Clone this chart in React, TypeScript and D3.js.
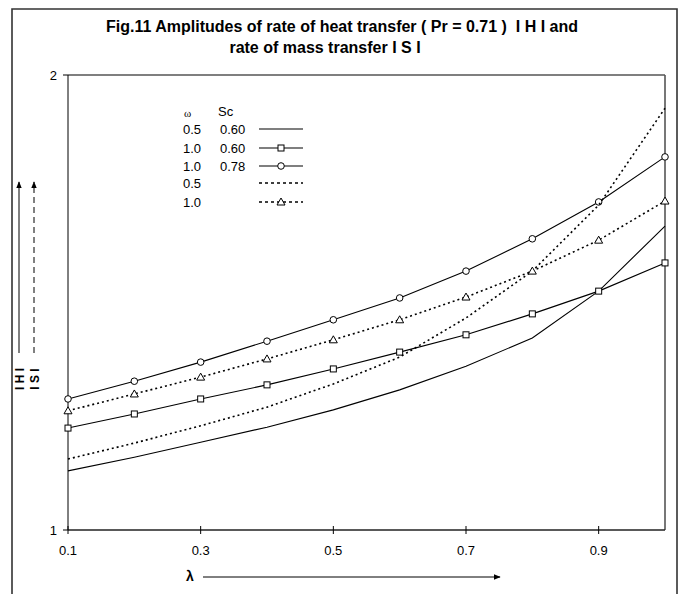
import React from "react";
import * as d3 from "d3";

const lambdas = [0.1, 0.2, 0.3, 0.4, 0.5, 0.6, 0.7, 0.8, 0.9, 1.0];
// |H| omega=0.5, Sc=0.60
const hW05Sc060 = [1.13, 1.16, 1.193, 1.226, 1.264, 1.308, 1.36, 1.422, 1.525, 1.668];
// |H| omega=1.0, Sc=0.60
const hW10Sc060 = [1.224, 1.255, 1.288, 1.319, 1.354, 1.391, 1.429, 1.475, 1.525, 1.587];
// |H| omega=1.0, Sc=0.78
const hW10Sc078 = [1.288, 1.327, 1.369, 1.415, 1.462, 1.51, 1.569, 1.64, 1.721, 1.82];
// |S| omega=0.5
const sW05 = [1.156, 1.191, 1.229, 1.27, 1.321, 1.38, 1.466, 1.569, 1.714, 1.927];
// |S| omega=1.0
const sW10 = [1.262, 1.299, 1.336, 1.376, 1.418, 1.462, 1.512, 1.569, 1.637, 1.723];

const xTicks = [0.1, 0.3, 0.5, 0.7, 0.9];
const yTicks = [1, 2];
const legendOmega = ["0.5", "1.0", "1.0", "0.5", "1.0"];
const legendSc = ["0.60", "0.60", "0.78", "", ""];
const titleLines = [
  "Fig.11 Amplitudes of rate of heat transfer ( Pr = 0.71 )  I H I and",
  "rate of mass transfer I S I",
];

type Marker = "none" | "square" | "circle" | "triangle";
interface Series {
  values: number[];
  dashed: boolean;
  marker: Marker;
}
const series: Series[] = [
  { values: hW05Sc060, dashed: false, marker: "none" },
  { values: hW10Sc060, dashed: false, marker: "square" },
  { values: hW10Sc078, dashed: false, marker: "circle" },
  { values: sW05, dashed: true, marker: "none" },
  { values: sW10, dashed: true, marker: "triangle" },
];

const FONT = "'Liberation Sans', Arial, sans-serif";

function MarkerShape({ kind, cx, cy }: { kind: Marker; cx: number; cy: number }) {
  if (kind === "square")
    return <rect x={cx - 3} y={cy - 3} width={6} height={6} fill="#fff" stroke="#000" strokeWidth={1} />;
  if (kind === "circle")
    return <circle cx={cx} cy={cy} r={3.3} fill="#fff" stroke="#000" strokeWidth={1} />;
  if (kind === "triangle")
    return (
      <path
        d={`M${cx},${cy - 4} L${cx + 4},${cy + 3} L${cx - 4},${cy + 3} Z`}
        fill="#fff"
        stroke="#000"
        strokeWidth={1}
      />
    );
  return null;
}

export default function App() {
  const W = 681;
  const H = 594;
  const x = d3.scaleLinear().domain([0.1, 1.0]).range([68, 665]);
  const y = d3.scaleLinear().domain([1, 2]).range([530, 75]);
  const line = d3
    .line<number>()
    .x((_, i) => x(lambdas[i]))
    .y((d) => y(d));

  const legX0 = 259;
  const legX1 = 303;
  const legRowY = [129, 148, 166, 183, 202];

  return (
    <svg
      width={W}
      height={H}
      style={{ position: "absolute", left: 0, top: 0, background: "#fff" }}
      xmlns="http://www.w3.org/2000/svg"
    >
      <defs>
        <marker id="ah" viewBox="0 0 10 10" refX="9" refY="5" markerWidth="7" markerHeight="7" orient="auto">
          <path d="M0,1 L10,5 L0,9 Z" fill="#000" />
        </marker>
      </defs>
      <rect x={0} y={0} width={W} height={H} fill="#fff" />
      {/* outer border */}
      <path d={`M12,${H + 2} L12,9 L677,9 L677,${H + 2}`} fill="none" stroke="#333" strokeWidth={1.6} />

      {/* title */}
      <text
        x={342}
        y={32}
        textAnchor="middle"
        fontFamily={FONT}
        fontWeight="bold"
        fontSize={16}
        fill="#000"
        style={{ whiteSpace: "pre" }}
      >
        {titleLines[0]}
      </text>
      <text
        x={325}
        y={53}
        textAnchor="middle"
        fontFamily={FONT}
        fontWeight="bold"
        fontSize={16}
        fill="#000"
        style={{ whiteSpace: "pre" }}
      >
        {titleLines[1]}
      </text>

      {/* plot frame */}
      <line x1={x(0.1)} x2={x(1.0)} y1={y(2)} y2={y(2)} stroke="#555" strokeWidth={1.6} />
      <line x1={x(1.0)} x2={x(1.0)} y1={y(2)} y2={y(1)} stroke="#555" strokeWidth={1.6} />
      <line x1={x(0.1)} x2={x(0.1)} y1={y(2)} y2={y(1)} stroke="#000" strokeWidth={1} />
      <line x1={x(0.1)} x2={x(1.0)} y1={y(1)} y2={y(1)} stroke="#222" strokeWidth={1.6} />

      {/* y ticks */}
      {yTicks.map((t) => (
        <g key={"y" + t}>
          <line x1={x(0.1) - 5} x2={x(0.1)} y1={y(t)} y2={y(t)} stroke="#000" strokeWidth={1} />
          <text x={57} y={y(t) + 5} textAnchor="end" fontFamily={FONT} fontSize={13} fill="#000">
            {t}
          </text>
        </g>
      ))}
      {/* x ticks */}
      {xTicks.map((t) => (
        <g key={"x" + t}>
          <line x1={x(t)} x2={x(t)} y1={y(1) - 4} y2={y(1) + 4} stroke="#000" strokeWidth={1} />
          <text x={x(t)} y={555} textAnchor="middle" fontFamily={FONT} fontSize={13} fill="#000">
            {t.toFixed(1)}
          </text>
        </g>
      ))}

      {/* x axis label */}
      <text x={190} y={581} textAnchor="middle" fontFamily={FONT} fontWeight="bold" fontSize={14} fill="#000">
        λ
      </text>
      <line x1={203} x2={500} y1={577} y2={577} stroke="#000" strokeWidth={1} markerEnd="url(#ah)" />

      {/* y axis labels */}
      <line x1={19} x2={19} y1={353} y2={182} stroke="#000" strokeWidth={1} markerEnd="url(#ah)" />
      <line x1={34} x2={34} y1={353} y2={182} stroke="#000" strokeWidth={1} strokeDasharray="6,4" markerEnd="url(#ah)" />
      <text
        transform="translate(24,379) rotate(-90)"
        textAnchor="middle"
        fontFamily={FONT}
        fontWeight="bold"
        fontSize={12}
        fill="#000"
      >
        I H I
      </text>
      <text
        transform="translate(39,379) rotate(-90)"
        textAnchor="middle"
        fontFamily={FONT}
        fontWeight="bold"
        fontSize={12}
        fill="#000"
      >
        I S I
      </text>

      {/* series */}
      {series.map((s, k) => (
        <g key={"s" + k}>
          <path
            d={line(s.values) || ""}
            fill="none"
            stroke="#000"
            strokeWidth={s.dashed ? 1.6 : 1.1}
            strokeDasharray={s.dashed ? "2,3" : undefined}
          />
          {s.marker !== "none" &&
            s.values.map((v, i) => <MarkerShape key={i} kind={s.marker} cx={x(lambdas[i])} cy={y(v)} />)}
        </g>
      ))}

      {/* legend */}
      <text x={184} y={117} fontFamily="'Liberation Serif', serif" fontSize={11} fill="#000">
        ω
      </text>
      <text x={218} y={116} fontFamily={FONT} fontSize={13} fill="#000">
        Sc
      </text>
      {series.map((s, k) => (
        <g key={"l" + k}>
          <text x={183} y={legRowY[k] + 5} fontFamily={FONT} fontSize={13} fill="#000">
            {legendOmega[k]}
          </text>
          <text x={220} y={legRowY[k] + 5} fontFamily={FONT} fontSize={13} fill="#000">
            {legendSc[k]}
          </text>
          <line
            x1={legX0}
            x2={legX1}
            y1={legRowY[k]}
            y2={legRowY[k]}
            stroke="#000"
            strokeWidth={s.dashed ? 1.6 : 1.1}
            strokeDasharray={s.dashed ? "3,3" : undefined}
          />
          <MarkerShape kind={s.marker} cx={(legX0 + legX1) / 2} cy={legRowY[k]} />
        </g>
      ))}
    </svg>
  );
}
